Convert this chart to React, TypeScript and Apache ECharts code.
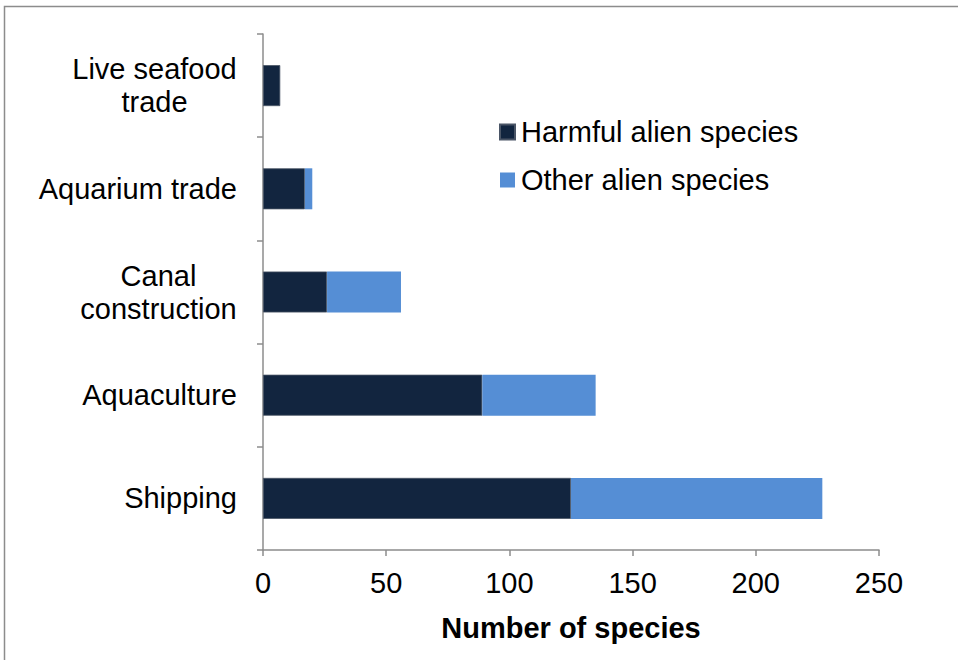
import React, { useEffect, useRef } from "react";
import * as echarts from "echarts";

const categories = ["Shipping", "Aquaculture", "Canal\nconstruction", "Aquarium trade", "Live seafood\ntrade"];
const harmful = [125, 89, 26, 17, 7];
const other = [102, 46, 30, 3, 0];
const xTicks = { min: 0, max: 250, interval: 50 };
const legendNames = ["Harmful alien species", "Other alien species"];
const axisTitle = "Number of species";

const FONT = "Liberation Sans";
const FS = 29;

function measure(t: string): number {
  const c = document.createElement("canvas").getContext("2d");
  if (!c) return t.length * FS * 0.5;
  c.font = `${FS}px "${FONT}"`;
  return c.measureText(t).width;
}

export default function App() {
  const ref = useRef<HTMLDivElement>(null);
  useEffect(() => {
    document.body.style.margin = "0";
    if (!ref.current) return;
    const chart = echarts.init(ref.current, null, { renderer: "svg" });
    const rich: Record<string, any> = {};
    const keyOf: Record<string, string> = {};
    categories.forEach((cat, i) => {
      if (cat.includes("\n")) {
        const lines = cat.split("\n");
        const w = Math.max(...lines.map(measure));
        const k = "m" + i;
        keyOf[cat] = k;
        rich[k] = { width: Math.ceil(w), align: "center", fontSize: FS, fontFamily: FONT, color: "#000", lineHeight: 33 };
      }
    });
    const axisColor = "#8c8c8c";
    chart.setOption({
      animation: false,
      textStyle: { fontFamily: FONT },
      graphic: [
        {
          type: "rect",
          shape: { x: 4.5, y: 6.5, width: 1200, height: 1200 },
          style: { fill: "none", stroke: "#8c8c8c", lineWidth: 1.5 },
          silent: true,
        },
      ],
      grid: { left: 263, right: 79, top: 34, bottom: 110, containLabel: false },
      legend: {
        orient: "vertical",
        left: 494,
        top: 112,
        itemWidth: 15,
        itemHeight: 15,
        itemGap: 18,
        icon: "rect",
        data: legendNames,
        textStyle: { fontSize: FS, fontFamily: FONT, color: "#000", lineHeight: 30, padding: [0, 0, 0, 1] },
      },
      xAxis: {
        type: "value",
        min: xTicks.min,
        max: xTicks.max,
        interval: xTicks.interval,
        splitLine: { show: false },
        axisLine: { show: true, lineStyle: { color: axisColor, width: 1.5 } },
        axisTick: { show: true, length: 6, lineStyle: { color: axisColor, width: 1.5 } },
        axisLabel: { fontSize: FS, fontFamily: FONT, color: "#000", margin: 18 },
        name: axisTitle,
        nameLocation: "middle",
        nameGap: 63,
        nameTextStyle: { fontSize: FS, fontWeight: "bold", fontFamily: FONT, color: "#000" },
      },
      yAxis: {
        type: "category",
        data: categories,
        axisLine: { show: true, lineStyle: { color: axisColor, width: 1.5 } },
        axisTick: { show: true, length: 6, inside: false, lineStyle: { color: axisColor, width: 1.5 } },
        axisLabel: {
          fontSize: FS,
          fontFamily: FONT,
          color: "#000",
          margin: 26,
          lineHeight: 33,
          rich,
          formatter: (v: string) => {
            const k = keyOf[v];
            if (!k) return v;
            return v
              .split("\n")
              .map((l) => `{${k}|${l}}`)
              .join("\n");
          },
        },
      },
      series: [
        {
          name: legendNames[0],
          type: "bar",
          stack: "total",
          data: harmful,
          barWidth: 41,
          itemStyle: { color: "#12253F", borderColor: "#4a5566", borderWidth: 0.8 },
        },
        {
          name: legendNames[1],
          type: "bar",
          stack: "total",
          data: other,
          barWidth: 41,
          itemStyle: { color: "#558ED5", borderWidth: 0 },
        },
      ],
    });
    return () => chart.dispose();
  }, []);
  return <div ref={ref} style={{ width: 958, height: 660 }} />;
}
